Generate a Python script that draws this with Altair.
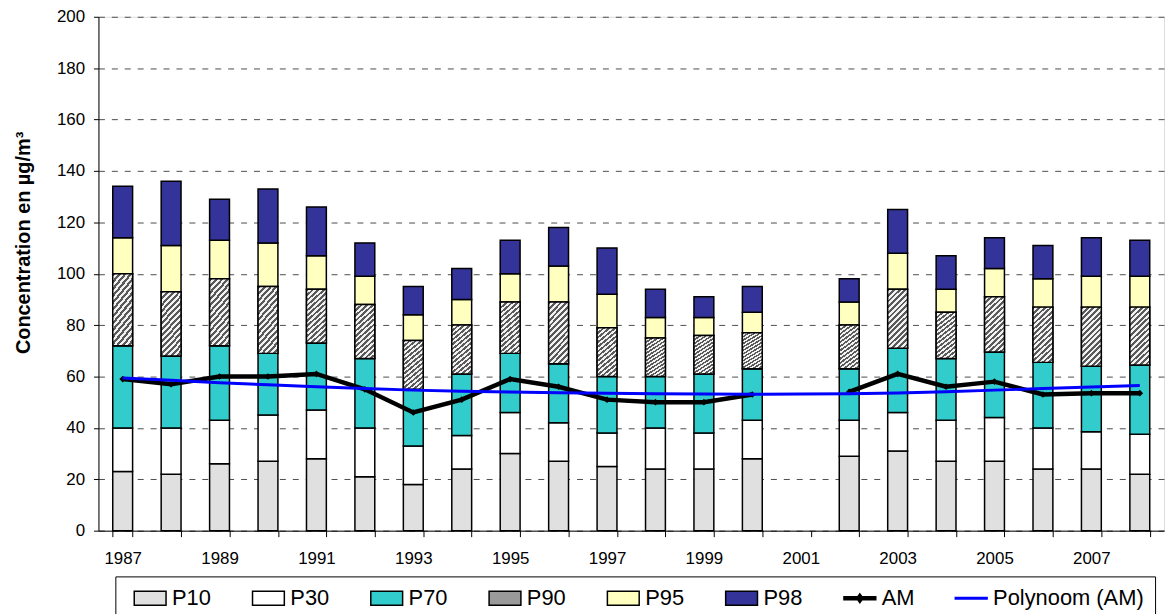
import altair as alt
import pandas as pd

# yearly percentiles (ug/m3); 2001 has no measurements
years = [str(y) for y in range(1987, 2009)]
p10 = [23, 22, 26, 27, 28, 21, 18, 24, 30, 27, 25, 24, 24, 28, None, 29, 31, 27, 27, 24, 24, 22]
p30 = [40, 40, 43, 45, 47, 40, 33, 37, 46, 42, 38, 40, 38, 43, None, 43, 46, 43, 44, 40, 38.5, 37.5]
p70 = [72, 68, 72, 69, 73, 67, 55, 61, 69, 65, 60, 60, 61, 63, None, 63, 71, 67, 69.5, 65.5, 64, 64.5]
p90 = [100, 93, 98, 95, 94, 88, 74, 80, 89, 89, 79, 75, 76, 77, None, 80, 94, 85, 91, 87, 87, 87]
p95 = [114, 111, 113, 112, 107, 99, 84, 90, 100, 103, 92, 83, 83, 85, None, 89, 108, 94, 102, 98, 99, 99]
p98 = [134, 136, 129, 133, 126, 112, 95, 102, 113, 118, 110, 94, 91, 95, None, 98, 125, 107, 114, 111, 114, 113]
am = [59, 57, 60, 60, 61, 55, 46, 51, 59, 56, 51, 50, 50, 53, None, 54, 61, 56, 58, 53, 53.5, 53.5]
poly = [59.4, 58.5, 57.6, 56.8, 56.0, 55.3, 54.7, 54.3, 54.0, 53.7, 53.5, 53.3, 53.2, 53.1, 53.2,
        53.3, 53.6, 54.1, 54.7, 55.3, 55.9, 56.5]

PCT = ["P10", "P30", "P70", "P90", "P95", "P98"]
LEGEND_ORDER = PCT + ["AM", "Polynoom (AM)"]

FILL = ["#e0e0e0", "#ffffff", "#33cccc", "#9a9a9a", "#ffffc0", "#333399", "#000000", "#0000ff"]
STROKE = ["#000000"] * 7 + ["#0000ff"]
RECT = "M-1,-0.44H1V0.44H-1Z"
AM_SYM = "M-1,-0.1H1V0.1H-1Z M0,-0.28L0.2,0L0,0.28L-0.2,0Z"
POLY_SYM = "M-1,-0.05H1V0.05H-1Z"
SHAPES = [RECT] * 6 + [AM_SYM, POLY_SYM]

rows = []
for i, year in enumerate(years):
    lo = 0
    for name, col in zip(PCT, [p10, p30, p70, p90, p95, p98]):
        if col[i] is None:
            break
        rows.append({"year": year, "series": name, "lo": lo, "hi": col[i]})
        lo = col[i]
bars_df = pd.DataFrame(rows)

am_df = pd.DataFrame({"year": years, "value": am, "series": "AM"}).dropna()
am_df["seg"] = ["a" if int(y) < 2001 else "b" for y in am_df["year"]]
poly_df = pd.DataFrame({"year": years, "value": poly, "series": "Polynoom (AM)"})
legend_df = pd.DataFrame({"series": LEGEND_ORDER})

FONT = "Liberation Sans"
TITLE = "Concentration en µg/m³"

leg = alt.Legend(
    title="\u00a0\u00a0", titleOrient="right", titlePadding=6, titleFontSize=22,
    orient="none", legendX=17, legendY=563, direction="horizontal",
    fillColor="white", strokeColor="black", padding=5,
    labelFont=FONT, labelFontSize=22, labelColor="black", labelOffset=5, labelLimit=400,
    symbolSize=1024, symbolStrokeWidth=1.5, symbolOffset=13, columnPadding=27,
)
fill = alt.Fill("series:N", scale=alt.Scale(domain=LEGEND_ORDER, range=FILL), legend=leg)
stroke = alt.Stroke("series:N", scale=alt.Scale(domain=LEGEND_ORDER, range=STROKE), legend=leg)
shape = alt.Shape("series:N", scale=alt.Scale(domain=LEGEND_ORDER, range=SHAPES), legend=leg)

x = alt.X(
    "year:O",
    scale=alt.Scale(domain=years, paddingInner=0.59, paddingOuter=0.295),
    axis=alt.Axis(
        labelExpr="toNumber(datum.value) % 2 == 1 ? datum.label : ''",
        tickBand="extent", labelAngle=0, labelFont=FONT, labelFontSize=17, labelColor="black",
        labelPadding=14, tickSize=6, tickColor="black", domainColor="black", grid=False,
        labelOverlap=False,
    ),
    title=None,
)
y_axis = alt.Axis(
    values=list(range(0, 201, 20)), grid=True, gridDash=[6, 7], gridColor="#4d4d4d",
    labelFont=FONT, labelFontSize=17, labelColor="black", labelPadding=9,
    tickSize=5, tickColor="black", domainColor="black",
    titleFont=FONT, titleFontSize=20, titleFontWeight="bold", titleColor="black",
    titleX=-69, titleY=227, titleAngle=270, titleAlign="center", titleBaseline="alphabetic",
)
y_scale = alt.Scale(domain=[0, 200])


def y_enc(field):
    return alt.Y(f"{field}:Q", scale=y_scale, axis=y_axis, title=TITLE)


# hatched fill for the P90 segment (diagonal stripes)
n = 14
stops = []
for i in range(n):
    a, b, c = i / n, (i + 0.5) / n, (i + 1) / n
    stops += [
        {"offset": a, "color": "#5a5a5a"}, {"offset": b, "color": "#5a5a5a"},
        {"offset": b, "color": "#f2f2f2"}, {"offset": c, "color": "#f2f2f2"},
    ]
hatch = {"gradient": "linear", "x1": 0, "y1": 0, "x2": 0.4, "y2": 1.2, "stops": stops}

bars = alt.Chart(bars_df).mark_bar(strokeWidth=1.5).encode(
    x=x, y=y_enc("lo"), y2="hi:Q", fill=fill, stroke=stroke,
)
p90_hatch = alt.Chart(bars_df).transform_filter("datum.series == 'P90'").mark_bar(
    fill=hatch, stroke="black", strokeWidth=1.5
).encode(x=x, y=y_enc("lo"), y2="hi:Q")

am_line = alt.Chart(am_df).mark_line(strokeWidth=4.5).encode(
    x=x, y=y_enc("value"), stroke=stroke, detail="seg:N",
)
am_pts = alt.Chart(am_df).mark_point(shape="diamond", filled=True, size=45, color="black", opacity=1).encode(
    x=x, y=y_enc("value"),
)
poly_line = alt.Chart(poly_df).mark_line(strokeWidth=3).encode(
    x=x, y=y_enc("value"), stroke=stroke,
)
legend_layer = alt.Chart(legend_df).transform_filter("false").mark_point(filled=True, opacity=1).encode(
    shape=shape, fill=fill, stroke=stroke,
)

chart = (
    alt.layer(bars, p90_hatch, am_line, am_pts, poly_line, legend_layer)
    .properties(
        width=1072, height=517,
        autosize=alt.AutoSizeParams(type="none"),
        padding={"left": 91, "top": 7, "right": 4, "bottom": 82},
    )
    .configure_view(stroke="transparent")
    .configure(font=FONT)
)

chart.save("out.html", embed_options={"renderer": "svg", "actions": False})
